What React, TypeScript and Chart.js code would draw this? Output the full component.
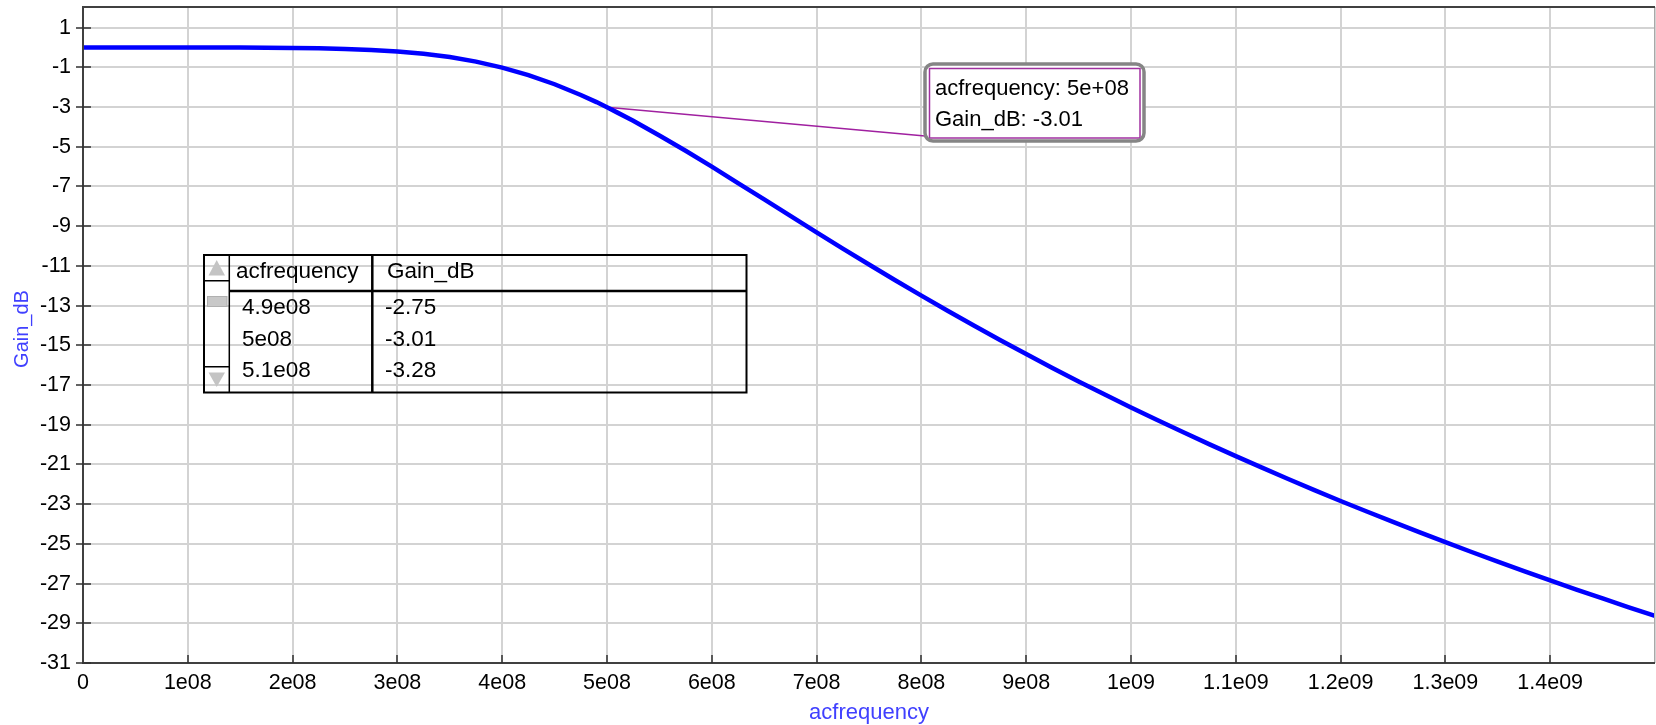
import React, { useEffect, useRef } from 'react';
import { Chart, registerables } from 'chart.js';

Chart.register(...registerables);

// ---- data ----
const FREQ = [
  0, 2.5e7, 5e7, 7.5e7, 1e8, 1.25e8, 1.5e8, 1.75e8, 2e8, 2.25e8, 2.5e8, 2.75e8,
  3e8, 3.25e8, 3.5e8, 3.75e8, 4e8, 4.25e8, 4.5e8, 4.75e8, 4.9e8, 5e8, 5.1e8, 5.25e8,
  5.5e8, 5.75e8, 6e8, 6.25e8, 6.5e8, 6.75e8, 7e8, 7.25e8, 7.5e8, 7.75e8, 8e8,
  8.25e8, 8.5e8, 8.75e8, 9e8, 9.25e8, 9.5e8, 9.75e8, 1e9, 1.025e9, 1.05e9,
  1.075e9, 1.1e9, 1.125e9, 1.15e9, 1.175e9, 1.2e9, 1.225e9, 1.25e9, 1.275e9,
  1.3e9, 1.325e9, 1.35e9, 1.375e9, 1.4e9, 1.425e9, 1.45e9, 1.475e9, 1.5e9,
];
const GAIN_DB = [
  0, 0, 0, 0, 0, 0, 0, -0.01, -0.02, -0.04, -0.07, -0.12,
  -0.2, -0.32, -0.48, -0.71, -1.01, -1.39, -1.85, -2.39, -2.75, -3.01, -3.28, -3.69,
  -4.43, -5.2, -6.0, -6.83, -7.65, -8.48, -9.31, -10.13, -10.93, -11.72, -12.5,
  -13.26, -14.0, -14.73, -15.44, -16.14, -16.82, -17.48, -18.13, -18.76, -19.38,
  -19.99, -20.58, -21.16, -21.73, -22.29, -22.84, -23.37, -23.89, -24.41,
  -24.91, -25.41, -25.89, -26.37, -26.84, -27.3, -27.75, -28.2, -28.63,
];

const X_TICKS = [0, 1e8, 2e8, 3e8, 4e8, 5e8, 6e8, 7e8, 8e8, 9e8, 1e9, 1.1e9, 1.2e9, 1.3e9, 1.4e9, 1.5e9];
const X_TICK_LABELS = ['0', '1e08', '2e08', '3e08', '4e08', '5e08', '6e08', '7e08', '8e08', '9e08', '1e09', '1.1e09', '1.2e09', '1.3e09', '1.4e09', ''];
const Y_TICKS = [1, -1, -3, -5, -7, -9, -11, -13, -15, -17, -19, -21, -23, -25, -27, -29, -31];
const X_MIN = 0;
const X_MAX = 1.5e9;
const Y_MIN = -31;
const Y_MAX = 2.04;

const X_TITLE = 'acfrequency';
const Y_TITLE = 'Gain_dB';

const MARKER_FREQ = 5e8;
const MARKER_GAIN = -3.01;
const MARKER_LINES = ['acfrequency: 5e+08', 'Gain_dB: -3.01'];

const TABLE_HEADERS = ['acfrequency', 'Gain_dB'];
const TABLE_FREQ = ['4.9e08', '5e08', '5.1e08'];
const TABLE_GAIN = ['-2.75', '-3.01', '-3.28'];

const FONT = '"Liberation Sans", Arial, sans-serif';

const overlay = {
  id: 'overlay',
  beforeDatasetsDraw(chart: any) {
    const { ctx, scales } = chart;
    const px = scales.x.getPixelForValue(MARKER_FREQ);
    const py = scales.y.getPixelForValue(MARKER_GAIN);
    ctx.save();
    ctx.strokeStyle = '#a020a0';
    ctx.lineWidth = 1.5;
    ctx.beginPath();
    ctx.moveTo(px, py);
    ctx.lineTo(925, 136);
    ctx.stroke();
    ctx.restore();
  },
  afterDraw(chart: any) {
    const { ctx, chartArea: a, scales } = chart;
    const xs = scales.x;
    const ys = scales.y;
    ctx.save();

    // frame
    ctx.strokeStyle = '#a8a8a8';
    ctx.lineWidth = 1;
    ctx.beginPath();
    ctx.moveTo(a.right - 0.5, a.top);
    ctx.lineTo(a.right - 0.5, a.bottom);
    ctx.stroke();
    ctx.strokeStyle = '#404040';
    ctx.lineWidth = 2;
    ctx.beginPath();
    ctx.moveTo(a.right, a.top);
    ctx.lineTo(a.left, a.top);
    ctx.lineTo(a.left, a.bottom);
    ctx.lineTo(a.right, a.bottom);
    ctx.stroke();

    // tick marks
    ctx.strokeStyle = '#303030';
    ctx.lineWidth = 1.5;
    ctx.beginPath();
    Y_TICKS.forEach((v) => {
      const p = Math.round(ys.getPixelForValue(v));
      ctx.moveTo(a.left - 7, p);
      ctx.lineTo(a.left + 8, p);
    });
    X_TICKS.forEach((v) => {
      if (v === X_MIN || v === X_MAX) return;
      const p = Math.round(xs.getPixelForValue(v));
      ctx.moveTo(p, a.bottom - 8);
      ctx.lineTo(p, a.bottom);
    });
    ctx.stroke();

    // axis titles
    ctx.fillStyle = '#4040ff';
    ctx.font = `22px ${FONT}`;
    ctx.textAlign = 'center';
    ctx.textBaseline = 'alphabetic';
    ctx.fillText(X_TITLE, (a.left + a.right) / 2, 719);
    ctx.save();
    ctx.translate(28, 329);
    ctx.rotate(-Math.PI / 2);
    ctx.font = `20px ${FONT}`;
    ctx.fillText(Y_TITLE, 0, 0);
    ctx.restore();

    // marker box
    ctx.fillStyle = '#ffffff';
    ctx.fillRect(926, 65, 217, 75);
    ctx.strokeStyle = '#a030a0';
    ctx.lineWidth = 1.5;
    ctx.strokeRect(929.5, 68.5, 210.5, 69.5);
    ctx.strokeStyle = '#858585';
    ctx.lineWidth = 3.5;
    ctx.beginPath();
    ctx.roundRect(925, 64, 219, 77, 8);
    ctx.stroke();
    ctx.fillStyle = '#000';
    ctx.font = `22px ${FONT}`;
    ctx.textAlign = 'left';
    ctx.fillText(MARKER_LINES[0], 935, 95);
    ctx.fillText(MARKER_LINES[1], 935, 126);

    // data table
    const T = { l: 204, r: 746.5, t: 255, b: 392.5, sc: 229.3, col: 372.3, head: 291 };
    ctx.strokeStyle = '#000';
    ctx.lineWidth = 2;
    ctx.strokeRect(T.l, T.t, T.r - T.l, T.b - T.t);
    ctx.lineWidth = 1.5;
    ctx.beginPath();
    ctx.moveTo(T.sc, T.t);
    ctx.lineTo(T.sc, T.b);
    ctx.moveTo(T.l, 280.7);
    ctx.lineTo(T.sc, 280.7);
    ctx.moveTo(T.l, 366.7);
    ctx.lineTo(T.sc, 366.7);
    ctx.stroke();
    ctx.lineWidth = 2.5;
    ctx.beginPath();
    ctx.moveTo(T.col, T.t);
    ctx.lineTo(T.col, T.b);
    ctx.moveTo(T.sc, T.head);
    ctx.lineTo(T.r, T.head);
    ctx.stroke();
    // scroll glyphs
    ctx.fillStyle = '#c4c4c4';
    ctx.beginPath();
    ctx.moveTo(216.7, 260);
    ctx.lineTo(225, 275.5);
    ctx.lineTo(208.5, 275.5);
    ctx.closePath();
    ctx.fill();
    ctx.beginPath();
    ctx.moveTo(208.5, 372.5);
    ctx.lineTo(225, 372.5);
    ctx.lineTo(216.7, 387);
    ctx.closePath();
    ctx.fill();
    ctx.fillStyle = '#c8c8c8';
    ctx.fillRect(207.5, 296.5, 19.5, 10);
    ctx.strokeStyle = '#b0b0b0';
    ctx.lineWidth = 1;
    ctx.strokeRect(207.5, 296.5, 19.5, 10);

    ctx.fillStyle = '#000';
    ctx.font = `22.5px ${FONT}`;
    ctx.textAlign = 'left';
    ctx.fillText(TABLE_HEADERS[0], 236, 278);
    ctx.fillText(TABLE_HEADERS[1], 387, 278);
    const rowBase = [314, 346, 377];
    TABLE_FREQ.forEach((s, i) => {
      ctx.fillText(s, 242, rowBase[i]);
      ctx.fillText(TABLE_GAIN[i], 385, rowBase[i]);
    });

    ctx.restore();
  },
};

export default function App() {
  const ref = useRef<HTMLCanvasElement | null>(null);

  useEffect(() => {
    if (!ref.current) return;
    const chart = new Chart(ref.current, {
      type: 'line',
      data: {
        datasets: [
          {
            data: FREQ.map((f, i) => ({ x: f, y: GAIN_DB[i] })),
            borderColor: '#0000ff',
            borderWidth: 4.5,
            pointRadius: 0,
            tension: 0,
            fill: false,
          },
        ],
      },
      options: {
        animation: false,
        responsive: true,
        maintainAspectRatio: false,
        events: [],
        layout: { padding: { top: 7, right: 1, left: 0, bottom: 0 } },
        plugins: { legend: { display: false }, tooltip: { enabled: false } },
        scales: {
          x: {
            type: 'linear',
            min: X_MIN,
            max: X_MAX,
            afterBuildTicks: (s: any) => {
              s.ticks = X_TICKS.map((v) => ({ value: v }));
            },
            afterFit: (s: any) => {
              s.height = 62;
              s.paddingLeft = 0;
              s.paddingRight = 0;
            },
            grid: { color: '#d3d3d3', lineWidth: 2, drawTicks: false },
            border: { display: false },
            ticks: {
              padding: 7,
              color: '#000',
              autoSkip: false,
              maxRotation: 0,
              font: { family: FONT, size: 21.5 },
              callback: (v: any) => X_TICK_LABELS[X_TICKS.indexOf(Number(v))] ?? '',
            },
          },
          y: {
            type: 'linear',
            min: Y_MIN,
            max: Y_MAX,
            afterBuildTicks: (s: any) => {
              s.ticks = Y_TICKS.map((v) => ({ value: v }));
            },
            afterFit: (s: any) => {
              s.width = 83;
              s.paddingTop = 0;
              s.paddingBottom = 0;
            },
            grid: { color: '#d3d3d3', lineWidth: 2, drawTicks: false },
            border: { display: false },
            ticks: {
              padding: 12,
              color: '#000',
              autoSkip: false,
              font: { family: FONT, size: 21.5 },
              callback: (v: any) => String(v),
            },
          },
        },
      },
      plugins: [overlay],
    });
    return () => chart.destroy();
  }, []);

  return (
    <div style={{ position: 'fixed', left: 0, top: 0, width: 1656, height: 725, background: '#fff' }}>
      <canvas ref={ref} />
    </div>
  );
}
